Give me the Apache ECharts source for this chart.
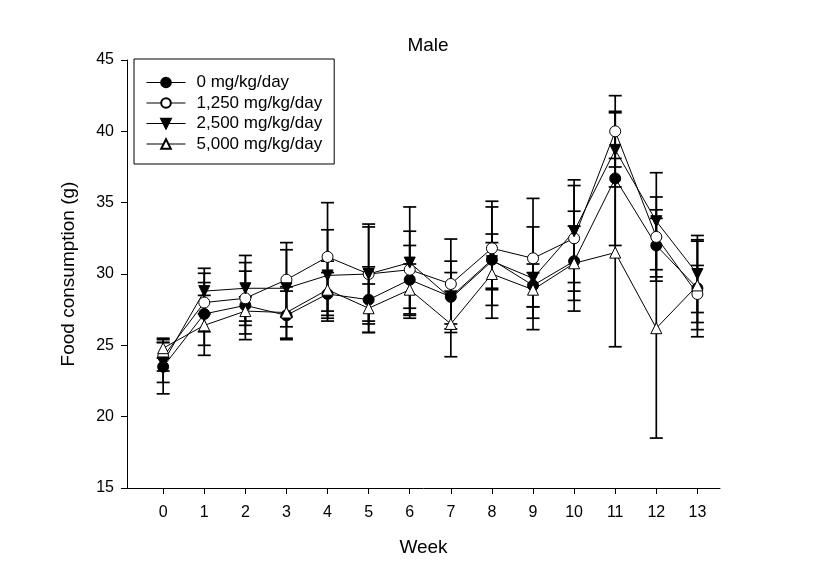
<!DOCTYPE html>
<html>
<head>
<meta charset="utf-8">
<script src="https://cdn.jsdelivr.net/npm/echarts@6/dist/echarts.min.js"></script>
<style>html,body{margin:0;padding:0;background:#fff}#c{width:836px;height:578px}</style>
</head>
<body>
<div id="c"></div>
<script>
const weeks = [0,1,2,3,4,5,6,7,8,9,10,11,12,13];
const seriesNames = ['0 mg/kg/day','1,250 mg/kg/day','2,500 mg/kg/day','5,000 mg/kg/day'];
const mean0    = [23.5, 27.2, 27.8, 27.1, 28.6, 28.2, 29.6, 28.4, 31.0, 29.2, 30.9, 36.7, 32.0, 29.0];
const sd0      = [1.9, 2.2, 2.4, 1.7, 1.5, 2.3, 2.4, 2.5, 4.1, 1.5, 3.5, 4.7, 2.5, 3.4];
const mean1250 = [24.2, 28.0, 28.3, 29.6, 31.2, 30.0, 30.3, 29.3, 31.8, 31.1, 32.5, 40.0, 32.6, 28.6];
const sd1250   = [1.0, 2.05, 2.5, 2.6, 3.8, 3.3, 2.7, 3.15, 2.9, 4.2, 3.7, 2.5, 2.8, 2.0];
const mean2500 = [23.8, 28.8, 29.0, 29.0, 29.9, 30.0, 30.8, 28.3, 30.9, 29.7, 33.0, 38.7, 33.7, 30.0];
const sd2500   = [1.4, 1.6, 2.3, 2.7, 3.2, 3.5, 3.9, 1.8, 1.9, 3.6, 3.6, 2.6, 3.4, 2.7];
const mean5000 = [24.8, 26.4, 27.4, 27.3, 28.9, 27.6, 28.9, 26.5, 30.0, 28.9, 30.75, 31.5, 26.2, 29.2];
const sd5000   = [0.7, 2.1, 1.0, 1.8, 2.0, 1.7, 1.8, 2.3, 2.2, 1.2, 2.6, 6.6, 7.7, 3.1];
const yTicks = [15,20,25,30,35,40,45];

const FONT = 'Liberation Sans, Arial, sans-serif';
const means = [mean0, mean1250, mean2500, mean5000];
const sds = [sd0, sd1250, sd2500, sd5000];
const symbols = ['circle','circle','triangle','triangle'];
const rotates = [0,0,180,0];
const fills = ['#000','#fff','#000','#fff'];

const series = [];
means.forEach((m, k) => {
  series.push({
    name: 'err' + k,
    type: 'custom',
    z: 1,
    silent: true,
    data: weeks.map((w, i) => [w, m[i] - sds[k][i], m[i] + sds[k][i]]),
    encode: {x: 0, y: [1, 2]},
    renderItem: function (params, api) {
      const x = api.value(0);
      const lo = api.coord([x, api.value(1)]);
      const hi = api.coord([x, api.value(2)]);
      const hw = 6.5;
      const st = {stroke: '#000', lineWidth: 1.7};
      return {type: 'group', children: [
        {type: 'line', shape: {x1: lo[0], y1: lo[1], x2: hi[0], y2: hi[1]}, style: st},
        {type: 'line', shape: {x1: hi[0]-hw, y1: hi[1], x2: hi[0]+hw, y2: hi[1]}, style: st},
        {type: 'line', shape: {x1: lo[0]-hw, y1: lo[1], x2: lo[0]+hw, y2: lo[1]}, style: st}
      ]};
    }
  });
});
means.forEach((m, k) => {
  series.push({
    name: seriesNames[k],
    type: 'line',
    z: 3,
    data: weeks.map((w, i) => [w, m[i]]),
    symbol: symbols[k],
    symbolRotate: rotates[k],
    symbolSize: 11,
    showAllSymbol: true,
    lineStyle: {color: '#000', width: 1},
    itemStyle: {color: fills[k], borderColor: '#000', borderWidth: 1},
    emphasis: {disabled: true},
    animation: false
  });
});

const chart = echarts.init(document.getElementById('c'), null, {renderer: 'canvas'});
chart.setOption({
  animation: false,
  backgroundColor: '#fff',
  title: {
    text: 'Male', left: 423, top: 31, textAlign: 'center',
    textStyle: {fontFamily: FONT, fontSize: 19, fontWeight: 'normal', color: '#000'}
  },
  legend: {
    data: seriesNames,
    orient: 'vertical',
    left: 134, top: 59,
    borderColor: '#000', borderWidth: 1,
    padding: [13.5, 12, 10, 12],
    itemWidth: 39, itemHeight: 12, itemGap: 0.5,
    lineStyle: {width: 1},
    textStyle: {fontFamily: FONT, fontSize: 17, lineHeight: 20, color: '#000', padding: [0,0,0,6]},
    selectedMode: false
  },
  grid: {left: 127, right: 116, top: 60, bottom: 90},
  xAxis: {
    type: 'value', min: -0.88, max: 13.55,
    name: 'Week', nameLocation: 'middle', nameGap: 50,
    nameTextStyle: {fontFamily: FONT, fontSize: 19, color: '#000'},
    axisLine: {onZero: false, lineStyle: {color: '#000', width: 1}},
    axisTick: {show: true, length: 6, lineStyle: {color: '#000'}, customValues: weeks},
    axisLabel: {fontFamily: FONT, fontSize: 16, color: '#000', margin: 17, customValues: weeks},
    splitLine: {show: false}
  },
  yAxis: {
    type: 'value', min: 15, max: 45, interval: 5,
    name: 'Food consumption (g)', nameLocation: 'middle', nameGap: 49,
    nameTextStyle: {fontFamily: FONT, fontSize: 19, color: '#000'},
    axisLine: {show: true, onZero: false, lineStyle: {color: '#000', width: 1}},
    axisTick: {show: true, length: 6, lineStyle: {color: '#000'}, customValues: yTicks},
    axisLabel: {fontFamily: FONT, fontSize: 16, color: '#000', margin: 13, customValues: yTicks},
    splitLine: {show: false}
  },
  series: series
});
</script>
</body>
</html>
